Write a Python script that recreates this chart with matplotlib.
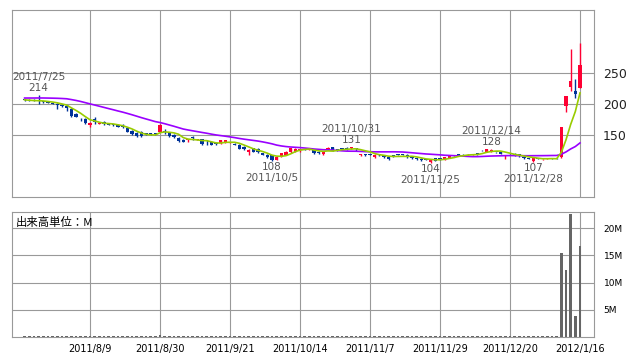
import numpy as np
import pandas as pd
import matplotlib
matplotlib.use("Agg")
import matplotlib.pyplot as plt

# trading days shown on the chart
dates = [
    "2011/7/20", "2011/7/21", "2011/7/22", "2011/7/25", "2011/7/26", "2011/7/27", "2011/7/28", "2011/7/29",
    "2011/8/1", "2011/8/2", "2011/8/3", "2011/8/4", "2011/8/5", "2011/8/8", "2011/8/9", "2011/8/10",
    "2011/8/11", "2011/8/12", "2011/8/15", "2011/8/16", "2011/8/17", "2011/8/18", "2011/8/19", "2011/8/22",
    "2011/8/23", "2011/8/24", "2011/8/25", "2011/8/26", "2011/8/29", "2011/8/30", "2011/8/31", "2011/9/1",
    "2011/9/2", "2011/9/5", "2011/9/6", "2011/9/7", "2011/9/8", "2011/9/9", "2011/9/12", "2011/9/13",
    "2011/9/14", "2011/9/15", "2011/9/16", "2011/9/20", "2011/9/21", "2011/9/22", "2011/9/26", "2011/9/27",
    "2011/9/28", "2011/9/29", "2011/9/30", "2011/10/3", "2011/10/4", "2011/10/5", "2011/10/6", "2011/10/7",
    "2011/10/11", "2011/10/12", "2011/10/13", "2011/10/14", "2011/10/17", "2011/10/18", "2011/10/19", "2011/10/20",
    "2011/10/21", "2011/10/24", "2011/10/25", "2011/10/26", "2011/10/27", "2011/10/28", "2011/10/31", "2011/11/1",
    "2011/11/2", "2011/11/4", "2011/11/7", "2011/11/8", "2011/11/9", "2011/11/10", "2011/11/11", "2011/11/14",
    "2011/11/15", "2011/11/16", "2011/11/17", "2011/11/18", "2011/11/21", "2011/11/22", "2011/11/24", "2011/11/25",
    "2011/11/28", "2011/11/29", "2011/11/30", "2011/12/1", "2011/12/2", "2011/12/5", "2011/12/6", "2011/12/7",
    "2011/12/8", "2011/12/9", "2011/12/12", "2011/12/13", "2011/12/14", "2011/12/15", "2011/12/16", "2011/12/19",
    "2011/12/20", "2011/12/21", "2011/12/22", "2011/12/26", "2011/12/27", "2011/12/28", "2011/12/29", "2011/12/30",
    "2012/1/4", "2012/1/5", "2012/1/6", "2012/1/10", "2012/1/11", "2012/1/12", "2012/1/13", "2012/1/16",
]

open_ = [
    207, 206, 206, 206, 204, 203, 201, 200, 198, 197, 192, 184, 176, 176, 166,
    176, 168, 171, 167, 167, 166, 166, 161, 157, 153, 155, 152, 152, 152, 155,
    156, 153, 150, 145, 142, 141, 146, 142, 143, 139, 139, 136, 137, 138, 138,
    136, 134, 131, 122, 128.5, 128, 120.5, 118, 117, 110, 115, 118, 122, 123, 125,
    127, 126, 126, 122, 119, 126, 130, 126.5, 127.5, 129, 128.5, 128, 117, 118.5, 118.5,
    113.6, 118.5, 117, 114, 116.5, 119, 118.5, 118, 115, 111.5, 110.5, 110.5, 106, 112, 111.5,
    111, 112.5, 117.5, 118.5, 118, 118.5, 118.5, 119, 125.5, 123, 124, 122.5, 123, 116, 119,
    120, 119, 115, 111.5, 108.5, 111.5, 110.5, 111.5, 112, 112, 115, 196, 227, 220, 225,
]
high = [
    208, 207, 207, 214, 205, 204, 202, 201, 199, 198, 193, 185, 177, 177, 170,
    178, 170, 172, 168, 168, 167, 167, 162, 158, 154, 156, 153, 153, 153, 167,
    160, 154, 151, 147, 143, 144, 148, 143, 144, 142, 140, 138, 142, 142, 139,
    137, 135, 132, 127, 129, 129, 121, 119, 118, 116, 121, 124, 129, 129, 128,
    128, 127, 127, 124, 123, 130, 130.5, 128, 128, 130, 131, 129, 120, 119, 119,
    119, 119, 118, 115, 117, 119.5, 119, 118.5, 116, 113, 112, 111, 110.5, 112.5, 112,
    114, 117.5, 118, 120, 118.5, 119.5, 119.5, 120, 126, 128, 128, 123, 123.5, 118, 119.5,
    120.5, 119.5, 115.5, 112, 113.6, 112, 111.5, 112.5, 112.5, 112.5, 162, 212, 289, 240, 298,
]
low = [
    205, 204, 204, 200, 202, 201, 199, 192, 195, 189, 179, 178, 173, 168, 162,
    168, 167, 166, 166, 165, 162, 161, 154, 149, 147, 147, 150, 150, 150, 154,
    151, 147, 145, 138, 138, 138, 141, 141, 134, 133, 133, 134, 136, 137, 137,
    133, 127, 126, 118, 122, 121, 117, 113, 108, 109, 114, 117, 121, 122, 123,
    125, 125, 120, 119, 118, 125, 124, 124, 126, 126, 128, 124, 116, 116, 117,
    113, 116, 113, 110, 115, 117, 117, 113, 111, 109, 108, 109.5, 104, 108, 110,
    110, 112, 116, 116, 116, 118, 118, 118, 124, 122.5, 123, 121, 118.5, 111, 118,
    116, 115, 111, 110.5, 107, 110.5, 110, 111, 111.5, 111.5, 112, 187, 220, 209, 225,
]
close = [
    206, 205, 204, 205, 203, 202, 200, 198, 196, 194, 180, 179, 175, 169, 169,
    170, 169, 167, 166, 166, 163, 162, 155, 152, 148, 148, 151, 151, 151, 166,
    155, 148, 146, 140, 139, 143, 145, 142.5, 135, 138, 134, 136, 141, 141, 138.5,
    134, 128, 127, 126, 123, 122, 118, 114, 110, 115, 120.5, 123, 128.5, 128, 127,
    126, 126.5, 120.5, 121.5, 123, 129.5, 125, 126, 127, 127, 131, 127, 119, 118, 118,
    118, 117.5, 114, 111, 116, 118, 118, 113.6, 112, 111, 110, 110, 110, 108.6, 111,
    113.6, 117, 117, 118, 117, 119, 119, 119, 125, 127.5, 126, 122, 119, 117, 118.5,
    116.5, 115.5, 112, 111, 113, 111, 111, 112, 112, 112, 162, 212, 236, 216, 262,
]

# closes before the first shown day, only used to seed the moving averages
pre_close = [204, 204, 203, 204, 205, 204, 203, 204, 205, 212, 214, 216,
             217, 218, 217, 216, 215, 214, 213, 212, 208, 207, 206, 205]

# volume in millions of shares
volume = [
    0.15, 0.14, 0.16, 0.18, 0.15, 0.14, 0.15, 0.16, 0.14, 0.15, 0.18, 0.16, 0.15, 0.16, 0.15,
    0.16, 0.14, 0.15, 0.14, 0.15, 0.15, 0.16, 0.17, 0.16, 0.15, 0.16, 0.14, 0.15, 0.15, 0.45,
    0.18, 0.15, 0.14, 0.16, 0.15, 0.14, 0.15, 0.14, 0.15, 0.15, 0.14, 0.15, 0.15, 0.14, 0.15,
    0.15, 0.16, 0.15, 0.17, 0.15, 0.14, 0.15, 0.16, 0.18, 0.16, 0.15, 0.15, 0.16, 0.15, 0.15,
    0.14, 0.14, 0.15, 0.15, 0.14, 0.16, 0.15, 0.14, 0.14, 0.15, 0.16, 0.15, 0.15, 0.14, 0.14,
    0.15, 0.14, 0.15, 0.15, 0.14, 0.14, 0.14, 0.15, 0.15, 0.14, 0.14, 0.14, 0.16, 0.15, 0.14,
    0.15, 0.15, 0.14, 0.14, 0.14, 0.14, 0.14, 0.14, 0.16, 0.16, 0.17, 0.15, 0.15, 0.15, 0.14,
    0.14, 0.14, 0.15, 0.14, 0.16, 0.14, 0.14, 0.14, 0.14, 0.14, 15.4, 12.4, 22.6, 3.9, 16.7,
]

tick_dates = ["2011/8/9", "2011/8/30", "2011/9/21", "2011/10/14", "2011/11/7",
              "2011/11/29", "2011/12/20", "2012/1/16"]
price_ticks = [150, 200, 250]
volume_ticks = [5, 10, 15, 20]
volume_labels = ["5M", "10M", "15M", "20M"]

# marked highs and lows
marks = [("2011/7/25", 214, "high"), ("2011/10/5", 108, "low"),
         ("2011/10/31", 131, "high"), ("2011/11/25", 104, "low"),
         ("2011/12/14", 128, "high"), ("2011/12/28", 107, "low")]

RED = "#ff0033"
BLUE = "#003399"
GREEN = "#99cc00"
PURPLE = "#9900ff"
GRID = "#999999"
TXT = "#555555"

x = np.arange(len(dates))
o = np.array(open_, float)
c = np.array(close, float)
h = np.array(high, float)
l = np.array(low, float)
full = pd.Series(pre_close + close, dtype=float)
ma5 = full.rolling(5).mean().to_numpy()[len(pre_close):]
ma25 = full.rolling(25).mean().to_numpy()[len(pre_close):]
tick_pos = [dates.index(d) for d in tick_dates]

plt.rcParams['font.family'] = ['DejaVu Sans']
fig = plt.figure(figsize=(6.38, 3.62), dpi=100)
ax = fig.add_axes([12 / 638, 1 - 197 / 362, 582 / 638, 187 / 362])
axv = fig.add_axes([12 / 638, 1 - 337 / 362, 582 / 638, 125 / 362])

xlim = (-2.7, 122.0)

# price panel
cols = np.where(c > o, RED, BLUE)
ax.vlines(x, l, h, colors=cols, linewidth=1.0, zorder=3)
body = np.maximum(np.abs(c - o), 1.3)
ax.bar(x, body, width=0.7, bottom=np.minimum(o, c), color=cols, linewidth=0, zorder=3)
ax.plot(x, ma25, color=PURPLE, linewidth=1.2, zorder=4)
ax.plot(x, ma5, color=GREEN, linewidth=1.2, zorder=4)

ax.set_xlim(*xlim)
ax.set_ylim(50, 351)
ax.set_xticks(tick_pos)
ax.set_xticklabels([])
ax.set_yticks(price_ticks)
ax.yaxis.tick_right()
ax.tick_params(axis='both', length=0)
ax.tick_params(axis='y', pad=6.5, labelsize=9, labelcolor="#222222")
ax.grid(True, color=GRID, linewidth=0.8)
ax.set_axisbelow(True)
for s in ax.spines.values():
    s.set_color(GRID)
    s.set_linewidth(0.8)

for d, v, kind in marks:
    i = dates.index(d)
    if kind == "high":
        ax.annotate(str(v), (i, v), xytext=(0, 7), textcoords="offset pixels",
                    ha="center", va="center", fontsize=7.5, color=TXT)
        ax.annotate(d, (i, v), xytext=(0, 18), textcoords="offset pixels",
                    ha="center", va="center", fontsize=7.5, color=TXT)
    else:
        ax.annotate(str(v), (i, v), xytext=(0, -6), textcoords="offset pixels",
                    ha="center", va="center", fontsize=7.5, color=TXT)
        ax.annotate(d, (i, v), xytext=(0, -17), textcoords="offset pixels",
                    ha="center", va="center", fontsize=7.5, color=TXT)

# volume panel
axv.bar(x, volume, width=0.6, color="#666666", linewidth=0, zorder=3)
axv.set_xlim(*xlim)
axv.set_ylim(0, 23)
axv.set_xticks(tick_pos)
axv.set_xticklabels(tick_dates, fontsize=7)
axv.set_yticks(volume_ticks)
axv.set_yticklabels(volume_labels)
axv.yaxis.tick_right()
axv.tick_params(axis='both', length=0)
axv.tick_params(axis='x', pad=5)
axv.tick_params(axis='y', pad=7, labelsize=6.5)
axv.grid(True, color=GRID, linewidth=0.8)
axv.set_axisbelow(True)
for s in axv.spines.values():
    s.set_color(GRID)
    s.set_linewidth(0.8)
axv.text(0.006, 1 - 10 / 125, "出来高単位：M", transform=axv.transAxes,
         ha="left", va="center", fontsize=8.2,
         family=['Noto Sans CJK JP', 'DejaVu Sans'])

fig.savefig("out.png", dpi=100)
